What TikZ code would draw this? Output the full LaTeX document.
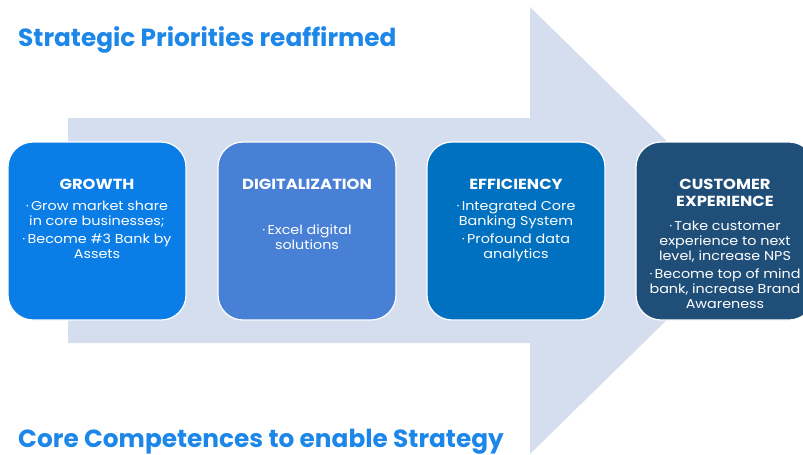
\documentclass[tikz,border=0pt]{standalone}
\usepackage{fontspec}
\setmainfont{Poppins}
\newfontfamily\boxfont{Poppins}[FakeStretch=1.12]
\definecolor{arrowbg}{HTML}{D5DEEF}
\definecolor{cgrowth}{HTML}{0A7DE6}
\definecolor{cdigital}{HTML}{4780D5}
\definecolor{cefficiency}{HTML}{0070C0}
\definecolor{ccustomer}{HTML}{1F4E79}
\definecolor{ctitle}{HTML}{1C87E8}
\tikzset{
  box/.style={draw=white, line width=1.2pt, rounded corners=25pt, minimum width=178pt, minimum height=178pt, inner sep=0pt},
  boxtext/.style={text=white, align=center, anchor=north, inner sep=0pt, font=\boxfont\fontsize{12.8}{15}\selectfont},
  headline/.style={text=ctitle, anchor=base west, inner sep=0pt, font=\fontsize{24.8}{28}\selectfont\bfseries},
}
\newcommand{\bt}[1]{{\fontsize{14.6}{16.5}\selectfont\bfseries #1}}
\begin{document}
\begin{tikzpicture}[x=1pt,y=-1pt]
\useasboundingbox (0,0) rectangle (803,455);
\fill[arrowbg] (68,118) -- (530,118) -- (530,7) -- (758,230.5) -- (530,454) -- (530,343) -- (68,343) -- cycle;
\node[headline] (t1) at (18,46.5) {Strategic Priorities reaffirmed};
\node[headline] (t2) at (18,447.5) {Core Competences to enable Strategy};
\node[box, fill=cgrowth] (growth) at (97,231) {};
\node[box, fill=cdigital] (digital) at (307,231) {};
\node[box, fill=cefficiency] (efficiency) at (516,231) {};
\node[box, fill=ccustomer] (customer) at (725,231) {};
\node[boxtext] (growth-t) at (97,179) {\bt{GROWTH}\\[6pt] ·\,Grow market share\\ in core businesses;\\[3pt] ·\,Become \#3 Bank by\\ Assets};
\node[boxtext] (digital-t) at (307,179) {\bt{DIGITALIZATION}\\[30pt] ·\,Excel digital\\ solutions};
\node[boxtext] (efficiency-t) at (516,179) {\bt{EFFICIENCY}\\[6pt] ·\,Integrated Core\\ Banking System\\[3pt] ·\,Profound data\\ analytics};
\node[boxtext] (customer-t) at (725,179) {\bt{CUSTOMER}\\[2pt] \bt{EXPERIENCE}\\[9pt] ·\,Take customer\\ experience to next\\ level, increase NPS\\[3pt] ·\,Become top of mind\\ bank, increase Brand\\ Awareness};
\end{tikzpicture}
\end{document}
